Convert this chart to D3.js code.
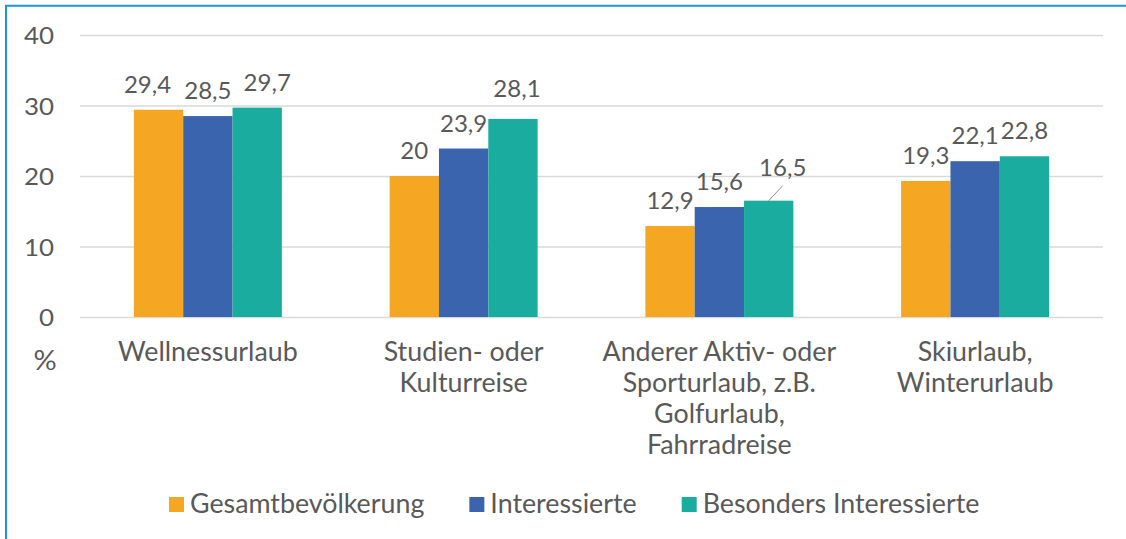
<!DOCTYPE html>
<html>
<head>
<meta charset="utf-8">
<script src="https://cdn.jsdelivr.net/npm/d3@7"></script>
<style>
  html, body { margin: 0; padding: 0; background: #ffffff; }
  svg { display: block; }
  text { font-family: Lato, "Open Sans", sans-serif; fill: #595959; }
</style>
</head>
<body>
<svg id="chart" width="1126" height="539"></svg>
<script>
// ---- data ----
const categories = [
  ["Wellnessurlaub"],
  ["Studien- oder", "Kulturreise"],
  ["Anderer Aktiv- oder", "Sporturlaub, z.B.", "Golfurlaub,", "Fahrradreise"],
  ["Skiurlaub,", "Winterurlaub"]
];
const seriesNames = ["Gesamtbevölkerung", "Interessierte", "Besonders Interessierte"];
const gesamt = [29.4, 20, 12.9, 19.3];
const interessierte = [28.5, 23.9, 15.6, 22.1];
const besonders = [29.7, 28.1, 16.5, 22.8];
const yTicks = [0, 10, 20, 30, 40];
const unitLabel = "%";

// ---- styles / layout ----
const colors = ["#F5A623", "#3A64AD", "#1BACA0"];
const numFont = 24, txtFont = 26.8;
const sxTick = 1.08, sxLabel = 1.0, sxTxt = 1.0; // horizontal text stretch
// manual label nudges (category index, series index) -> [dx, dy, leader]
const labelNudge = {
  "0-0": [-11, 0, false],
  "0-2": [10, 0, false],
  "1-2": [4, -5, false],
  "2-2": [14, -8, true]
};

const seriesValues = [gesamt, interessierte, besonders];
const catKeys = categories.map((c, i) => "c" + i);

const svg = d3.select("#chart");
const plot = { left: 80, right: 1103, top: 35, bottom: 317 };

// border (left + top)
svg.append("path")
  .attr("d", "M6,539V5.7H1126")
  .attr("fill", "none")
  .attr("stroke", "#1D95D7")
  .attr("stroke-width", 2);

const y = d3.scaleLinear().domain([0, 40]).range([plot.bottom, plot.top]);
const p = 0.4213;
const x0 = d3.scaleBand().domain(catKeys).range([plot.left, plot.right])
  .paddingInner(p).paddingOuter(p / 2);
const x1 = d3.scaleBand().domain(seriesNames).range([0, x0.bandwidth()]);

function stretcher(sx) {
  return function (sel) {
    sel.each(function () {
      const t = d3.select(this);
      const tx = +t.attr("x") || 0;
      const ty = +t.attr("y") || 0;
      t.attr("x", 0).attr("y", 0)
       .attr("transform", `translate(${tx},${ty}) scale(${sx},1)`);
    });
  };
}
const stretchTick = stretcher(sxTick), stretchLabel = stretcher(sxLabel), stretchTxt = stretcher(sxTxt);

// y axis with gridlines
const yAxis = svg.append("g")
  .attr("transform", `translate(${plot.left},0)`)
  .call(d3.axisLeft(y).tickValues(yTicks).tickSize(-(plot.right - plot.left)).tickPadding(26).tickFormat(d3.format("d")));
yAxis.select(".domain").remove();
yAxis.selectAll(".tick line").attr("stroke", "#D9D9D9").attr("stroke-width", 1.6);
yAxis.selectAll(".tick text")
  .attr("font-size", numFont).attr("fill", "#595959")
  .attr("font-family", "Lato, sans-serif")
  .attr("dy", "0.36em");
stretchTick(yAxis.selectAll(".tick text"));

// unit label
svg.append("text")
  .attr("x", 45).attr("y", 370)
  .attr("text-anchor", "middle")
  .attr("font-size", txtFont)
  .text(unitLabel)
  .call(stretchTick);

// bars
const groups = svg.append("g").selectAll("g")
  .data(catKeys)
  .join("g")
  .attr("transform", d => `translate(${x0(d)},0)`);

groups.selectAll("rect")
  .data((d, i) => seriesNames.map((s, j) => ({ s, j, v: seriesValues[j][i], ci: i })))
  .join("rect")
  .attr("x", d => x1(d.s))
  .attr("y", d => y(d.v))
  .attr("width", x1.bandwidth())
  .attr("height", d => y(0) - y(d.v))
  .attr("fill", d => colors[d.j]);

// data labels
const fmt = v => String(v).replace(".", ",");
groups.each(function (c, i) {
  const g = d3.select(this);
  seriesNames.forEach((s, j) => {
    const v = seriesValues[j][i];
    const cx = x1(s) + x1.bandwidth() / 2;
    const nudge = labelNudge[i + "-" + j] || [0, 0, false];
    const lx = cx + nudge[0], ly = y(v) - 17 + nudge[1];
    if (nudge[2]) {
      g.append("line")
        .attr("x1", cx).attr("y1", y(v))
        .attr("x2", lx).attr("y2", y(v) - 15)
        .attr("stroke", "#8C8C8C").attr("stroke-width", 1);
    }
    g.append("text")
      .attr("x", lx).attr("y", ly)
      .attr("text-anchor", "middle")
      .attr("font-size", numFont)
      .text(fmt(v))
      .call(stretchLabel);
  });
});

// category labels
const xAxis = svg.append("g")
  .attr("transform", `translate(0,${plot.bottom})`)
  .call(d3.axisBottom(x0).tickSize(0).tickFormat(""));
xAxis.select(".domain").remove();
xAxis.selectAll(".tick").each(function (d, i) {
  const t = d3.select(this);
  categories[i].forEach((line, k) => {
    t.append("text")
      .attr("x", 0).attr("y", 44 + k * 31)
      .attr("text-anchor", "middle")
      .attr("font-size", txtFont)
      .attr("fill", "#595959")
      .attr("font-family", "Lato, sans-serif")
      .text(line)
      .call(stretchTxt);
  });
});

// legend
const legend = svg.append("g");
let lxPos = 169;
seriesNames.forEach((s, j) => {
  legend.append("rect")
    .attr("x", lxPos).attr("y", 497)
    .attr("width", 15).attr("height", 15)
    .attr("fill", colors[j]);
  const t = legend.append("text")
    .attr("x", lxPos + 21).attr("y", 512.5)
    .attr("font-size", txtFont)
    .text(s)
    .call(stretchTxt);
  const w = t.node().getComputedTextLength() * sxTxt;
  lxPos = lxPos + 21 + w + 45;
});
</script>
</body>
</html>
